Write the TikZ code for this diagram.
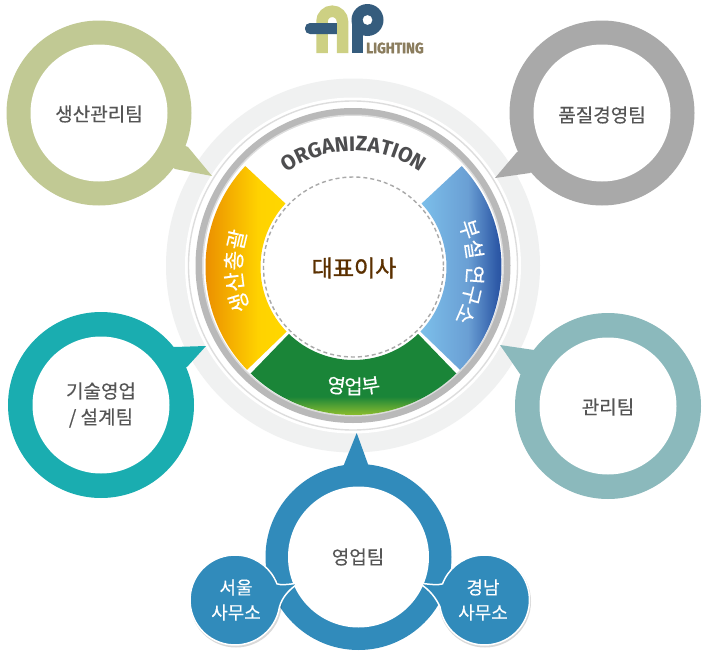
\documentclass[tikz,border=0pt]{standalone}
\usepackage{fontspec}
\usepackage{graphicx}
\setmainfont[FakeBold=0.25]{Noto Sans CJK KR}
\newfontfamily\ceofont[FakeBold=1.4]{Noto Sans CJK KR}
\newfontfamily\orgfont{Fira Sans}
\newfontfamily\logofont[FakeBold=1.5]{Fira Sans}
\usetikzlibrary{decorations.text}
\definecolor{cOlive}{HTML}{C1C994}
\definecolor{cGray}{HTML}{A9A9A9}
\definecolor{cTeal}{HTML}{1AADB0}
\definecolor{cMint}{HTML}{8BB9BC}
\definecolor{cBlue}{HTML}{318BBB}
\definecolor{cPale}{HTML}{F0F1F1}
\definecolor{cLine}{HTML}{DDDDDD}
\definecolor{cRing}{HTML}{B9B9B9}
\definecolor{cLabel}{HTML}{555555}
\definecolor{cBrown}{HTML}{5B3000}
\definecolor{cLogoA}{HTML}{CDD083}
\definecolor{cLogoP}{HTML}{355C7D}
\definecolor{cLogoT}{HTML}{8B7D5E}
\definecolor{cOrg}{HTML}{4D4D4F}
\definecolor{yA}{HTML}{E67E00}
\definecolor{yB}{HTML}{FFD200}
\definecolor{yC}{HTML}{FFD800}
\definecolor{bA}{HTML}{7CBFEA}
\definecolor{bB}{HTML}{6A9FD4}
\definecolor{bC}{HTML}{2F5BA8}
\definecolor{bD}{HTML}{1C3F93}
\definecolor{gA}{HTML}{A8CB2C}
\definecolor{gB}{HTML}{1A8538}
\pgfdeclarehorizontalshading{yellowseg}{100bp}{color(0bp)=(yA);color(25bp)=(yA);color(60bp)=(yB);color(75bp)=(yC);color(100bp)=(yC)}
\pgfdeclarehorizontalshading{blueseg}{100bp}{color(0bp)=(bA);color(25bp)=(bA);color(50bp)=(bB);color(65bp)=(bC);color(75bp)=(bD);color(100bp)=(bD)}
\pgfdeclareverticalshading{greenseg}{100bp}{color(0bp)=(gA);color(30bp)=(gA);color(42bp)=(gB);color(100bp)=(gB)}
\tikzset{
  lbl/.style={text=cLabel,font=\fontsize{19}{22}\selectfont,align=center,inner sep=0pt},
  small/.style={text=white,font=\fontsize{18}{25}\selectfont,align=center,inner sep=0pt},
  curved/.style={decorate,decoration={text along path,text align=center,text color=white}},
}
\newcommand{\bubble}[9]{%
  \fill[#3] (#1,#2) circle[radius=#4];
  \fill[#3] (#1,#2) -- (#5,#6) -- #9 -- (#7,#8) -- cycle;
  \fill[white] (#1,#2) circle[radius=68.5];
}
\newcommand{\segpath}[2]{(#1:148) arc[start angle=#1,end angle=#2,radius=148] -- (#2:93) arc[start angle=#2,end angle=#1,radius=93] -- cycle}
\begin{document}
\begin{tikzpicture}[x=1pt,y=-1pt]
\useasboundingbox (0,0) rectangle (710,653);
\fill[white] (0,0) rectangle (710,653);
% logo
\draw[cLogoA,line width=11.5pt] (322,53) -- (322,21.5) arc[start angle=180,end angle=360,radius=10.25] -- (342.5,53);
\fill[cLogoP,rounded corners=5pt] (305,23) rectangle (345,34);
\fill[cLogoA] (337,21) rectangle (348,53);
\fill[cLogoP] (352,20) rectangle (363,53);
\fill[cLogoP,even odd rule] (367.5,20) circle[radius=16] (367.5,20) circle[radius=5];
\node[inner sep=0pt,anchor=west,text=cLogoT] (lighting) at (366,48) {\scalebox{0.9}[1]{\logofont\bfseries\fontsize{15}{15}\selectfont LIGHTING}};
% central rings
\begin{scope}[shift={(353,265.5)}]
  \fill[cPale] (0,0) circle[radius=187];
  \fill[white] (0,0) circle[radius=168];
  \draw[cLine,line width=1.4pt] (0,0) circle[radius=164.5];
  \fill[cRing] (0,0) circle[radius=157.5];
  \fill[cLine] (0,0) circle[radius=151];
  \fill[white] (0,0) circle[radius=149.5];
\end{scope}
\begin{scope}[shift={(353.5,267)}]
  \shade[shading=yellowseg] \segpath{136}{223};
  \shade[shading=greenseg] \segpath{46}{134};
  \shade[shading=blueseg] \segpath{-43}{44};
  \draw[cGray,line width=1.4pt,dash pattern=on 4pt off 3pt] (0,0) circle[radius=90];
  \path[curved,decoration={text={|\fontsize{21.5}{21.5}\selectfont|생산총괄}}] (150:112) arc[start angle=150,end angle=206,radius=112];
  \path[curved,decoration={text={|\fontsize{21}{21}\selectfont|부설 연구소}}] (-30:114) arc[start angle=-30,end angle=35,radius=114];
  \path[decorate,decoration={text along path,text align=center,text color=white,text={|\fontsize{20}{20}\selectfont|영업부}}] (105:127) arc[start angle=105,end angle=75,radius=127];
  \path[decorate,decoration={text along path,text align=center,text color=cOrg,text={|\orgfont\bfseries\fontsize{21}{21}\selectfont|ORGANIZATION}}] (222:116) arc[start angle=222,end angle=318,radius=116];
\end{scope}
\node[text=cBrown,inner sep=0pt,font=\ceofont\fontsize{23}{25}\selectfont] (ceo) at (354,268) {대표이사};
% bubbles
\bubble{99}{113}{cOlive}{92.5}{188}{147}{175}{169}{(212,176)}
\bubble{602}{113}{cGray}{92.5}{517}{152}{530}{173}{(495,178)}
\bubble{101}{405}{cTeal}{93}{174}{347}{187}{367}{(206,346)}
\bubble{608}{406}{cMint}{93}{534}{350}{520}{374}{(500,345)}
\fill[cBlue] (358.5,557) circle[radius=93];
\fill[cBlue] (343,467) -- (356.7,433) -- (369,467) -- cycle;
\fill[white] (358.5,557) circle[radius=70.5];
% small bubbles
\fill[black,opacity=.15] (236,601.5) circle[radius=46];
\fill[black,opacity=.15] (485,601.5) circle[radius=46];
\filldraw[fill=cBlue,draw=white,line width=1.5pt] (235,600) ++(9:45) arc[start angle=9,end angle=339,radius=45] .. controls (281,585) and (285,585) .. (299,583) .. controls (288,590) and (282,598) .. cycle;
\filldraw[fill=cBlue,draw=white,line width=1.5pt] (484.5,600) ++(171:45) arc[start angle=171,end angle=-159,radius=45] .. controls (438,585) and (434,585) .. (419,583) .. controls (430,590) and (436,598) .. cycle;
% labels
\node[lbl] (t1) at (99,114) {생산관리팀};
\node[lbl] (t2) at (602,115) {품질경영팀};
\node[lbl] (t3) at (608,407) {관리팀};
\node[lbl,font=\fontsize{19}{26}\selectfont] (t4) at (101,405) {기술영업\\/ 설계팀};
\node[lbl] (t5) at (358,557) {영업팀};
\node[small] (t6) at (236,600) {서울\\사무소};
\node[small] (t7) at (483,600) {경남\\사무소};
\end{tikzpicture}
\end{document}
